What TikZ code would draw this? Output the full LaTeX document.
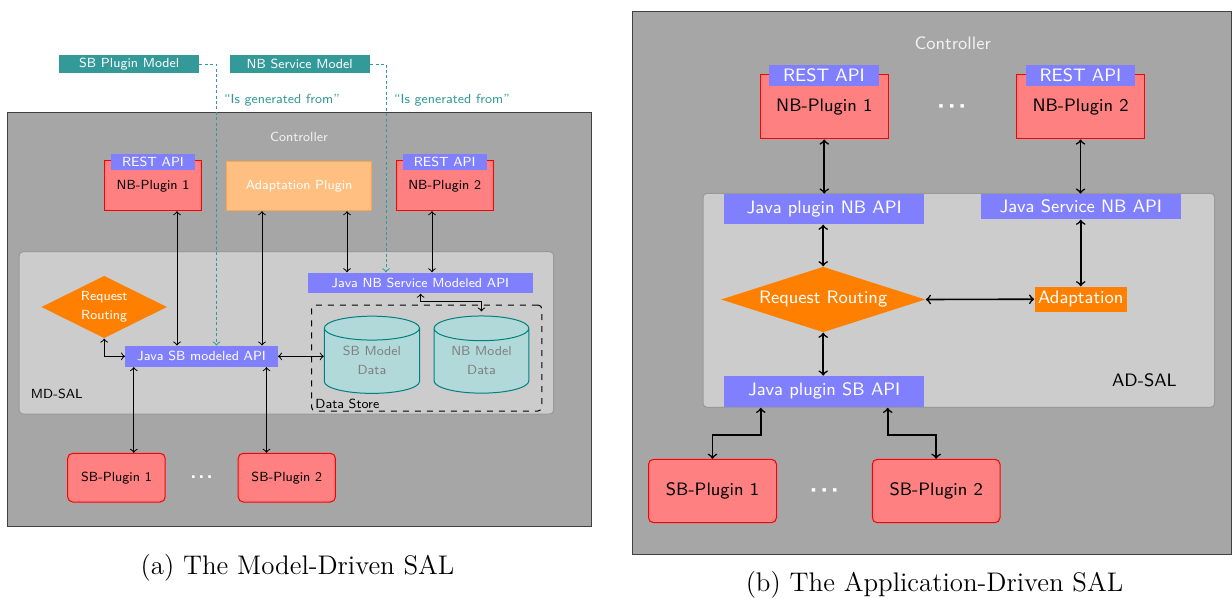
\documentclass[tikz,border=0pt]{standalone}
\usepackage{fontspec}
\usetikzlibrary{shapes.geometric,calc}

\newcommand{\fsa}{\sffamily\fontsize{6.6}{9.7}\selectfont}
\newcommand{\fsb}{\sffamily\fontsize{9}{10.8}\selectfont}
\newcommand{\fcap}{\rmfamily\fontsize{13.45}{16}\selectfont}
% three heavy dots between plugins
\newcommand{\threedots}[2]{{\fontsize{#1}{#1}\selectfont\textbullet\hspace{#2}\textbullet\hspace{#2}\textbullet}}

\begin{document}
\begin{tikzpicture}[x=0.5pt,y=-0.5pt,
  sz/.style 2 args={minimum width=#1pt,minimum height=#2pt},
  ctrl/.style={draw=black!75,fill=black!35,line width=0.5pt,inner sep=0pt},
  sal/.style={draw=black!40,fill=black!20,rounded corners=2pt,line width=0.5pt,inner sep=0pt},
  api/.style={fill=blue!50,text=white,inner sep=0pt},
  plug/.style={draw=red,fill=red!50,text=black,inner sep=0pt,line width=0.5pt},
  rplug/.style={plug,rounded corners=2.5pt},
  mdl/.style={fill=teal!80,text=white,inner sep=0pt},
  adpt/.style={draw=orange!70,fill=orange!50,text=white,inner sep=0pt,line width=0.5pt},
  route/.style={diamond,fill=orange,text=white,inner sep=0pt,align=center},
  store/.style={cylinder,shape border rotate=90,aspect=0.41,draw=teal,fill=teal!30,
    text=black!50,align=center,inner sep=0pt,line width=0.5pt},
  lnk/.style={<->,black,line width=0.5pt},
  lnkb/.style={<->,black,line width=0.8pt},
  gen/.style={->,teal!80,dash pattern=on 1.5pt off 1.2pt,line width=0.5pt},
  lbl/.style={inner sep=0pt},
]
\useasboundingbox (0,0) rectangle (1232,599);

% ---------------- (a) model-driven SAL ----------------
\begin{scope}[font=\fsa]
\node[ctrl,sz={292}{207}] (ctrlA) at (299,319.5) {};
\node[lbl,text=black!5] (ctrlAt) at (299,137) {Controller};

\node[mdl,sz={69.8}{9.15}] (sbm) at (129.2,64.15) {SB Plugin Model};
\node[mdl,sz={70.15}{9.15}] (nbm) at (299.75,64.15) {NB Service Model};
\node[lbl,text=teal!80] (gen1) at (282,100) {``Is generated from''};
\node[lbl,text=teal!80] (gen2) at (452,100) {``Is generated from''};

\node[plug,sz={48.55}{24.85}] (nb1) at (153.05,185.85) {NB-Plugin 1};
\node[api,sz={42}{8}] (tab1) at (153,162) {REST API};
\node[adpt,sz={72.65}{24.5}] (adp) at (299.15,186.2) {Adaptation Plugin};
\node[plug,sz={48.7}{24.85}] (nb2) at (444.7,185.85) {NB-Plugin 2};
\node[api,sz={41.85}{8}] (tab2) at (444.65,162) {REST API};

\node[sal,sz={267.3}{81.15}] (mdsal) at (286.4,332.85) {};
\node[lbl,anchor=west] (mdsalt) at (30.6,394) {MD-SAL};

\node[route,aspect=2.02,sz={62.9}{31.2}] (rr) at (104.2,307) {Request\\Routing};
\node[api,sz={76.1}{10.35}] (jsb) at (201.5,356.35) {Java SB modeled API};
\node[api,sz={112.45}{10.3}] (jnb) at (420.25,283) {Java NB Service Modeled API};

\node[draw,dashed,rounded corners=2pt,line width=0.5pt,inner sep=0pt,sz={115.2}{53}] (dstore) at (426.7,358) {};
\node[lbl,anchor=base west] (dst) at (315,408.5) {Data Store};
\node[store,minimum width=47.6pt,minimum height=38.6pt] (sbd) at (371.9,361)
  {\raisebox{-2.5pt}{\begin{tabular}{@{}c@{}}SB Model\\Data\end{tabular}}};
\node[store,minimum width=47.4pt,minimum height=38.6pt] (nbd) at (481.45,361)
  {\raisebox{-2.5pt}{\begin{tabular}{@{}c@{}}NB Model\\Data\end{tabular}}};

\node[rplug,sz={48.75}{24.35}] (sb1) at (116.45,477.65) {SB-Plugin 1};
\node[rplug,sz={48.6}{24.35}] (sb2) at (286.8,477.65) {SB-Plugin 2};
\node[lbl,text=white] (dotsA) at (201.5,477.5) {\threedots{4.6}{0.3pt}};

% connectors
\draw[lnk] (177,0 |- nb1.south) -- (177,0 |- jsb.north);
\draw[lnk] (262,0 |- adp.south) -- (262,0 |- jsb.north);
\draw[lnk] (347,0 |- adp.south) -- (347,0 |- jnb.north);
\draw[lnk] (432,0 |- nb2.south) -- (432,0 |- jnb.north);
\draw[gen] (sbm.east) -| (216.5,0 |- jsb.north);
\draw[gen] (nbm.east) -| (386,0 |- jnb.north);
\draw[lnk] (rr.south) |- (jsb.west);
\draw[lnk] (jsb.east) -- (jsb.east -| sbd.west);
\draw[lnk] (420.6,0 |- jnb.south) -- (420.6,301.7) -| ($(nbd.north)+(0,-4)$);
\draw[lnk] (133.8,0 |- jsb.south) -- (133.8,0 |- sb1.north);
\draw[lnk] (266.5,0 |- jsb.south) -- (266.5,0 |- sb2.north);
\end{scope}

\node[lbl,font=\fcap] (capA) at (297.5,568) {(a) The Model-Driven SAL};

% ---------------- (b) application-driven SAL ----------------
\begin{scope}[font=\fsb]
\node[ctrl,sz={299.75}{271.3}] (ctrlB) at (931.75,283) {};
\node[lbl,text=black!5] (ctrlBt) at (952.7,43.3) {Controller};

\node[plug,sz={64.25}{32}] (nb1r) at (824.25,107) {NB-Plugin 1};
\node[api,sz={55}{10.5}] (tab1r) at (824,75.5) {REST API};
\node[plug,sz={64.05}{32}] (nb2r) at (1080.55,107) {NB-Plugin 2};
\node[api,sz={54.5}{10.5}] (tab2r) at (1080.5,75.5) {REST API};
\node[lbl,text=white] (dotsB) at (951.7,107) {\threedots{6}{0.3pt}};

\node[sal,sz={255.8}{107}] (adsal) at (958.8,300.3) {};
\node[lbl] (adsalt) at (1144.4,380) {AD-SAL};

\node[api,sz={100}{15.15}] (jpnb) at (824.2,209.15) {Java plugin NB API};
\node[api,sz={100}{12.65}] (jsnb) at (1080.8,206.65) {Java Service NB API};
\node[route,aspect=3.12,sz={102.2}{32.8}] (rr2) at (823.2,299.5) {Request Routing};
\node[fill=orange,text=white,inner sep=0pt,sz={46.15}{12.5}] (adapt) at (1080.75,299.2) {Adaptation};
\node[api,sz={100}{15.35}] (jpsb) at (824.2,391.35) {Java plugin SB API};

\node[rplug,sz={64}{31.7}] (sb1r) at (712.5,491) {SB-Plugin 1};
\node[rplug,sz={63.85}{31.7}] (sb2r) at (936.15,491) {SB-Plugin 2};
\node[lbl,text=white] (dotsC) at (824.2,490.7) {\threedots{6}{0.3pt}};

% connectors
\draw[lnkb] (nb1r.south) -- (nb1r.south |- jpnb.north);
\draw[lnkb] (nb2r.south) -- (nb2r.south |- jsnb.north);
\draw[lnkb] (jpnb.south -| rr2.north) -- (rr2.north);
\draw[lnkb] (rr2.east) -- (adapt.west);
\draw[lnkb] (adapt.north |- jsnb.south) -- (adapt.north);
\draw[lnkb] (rr2.south) -- (rr2.south |- jpsb.north);
\draw[lnkb] (760.8,0 |- adsal.south) -- ++(0,27) -| (sb1r.north);
\draw[lnkb] (887.7,0 |- adsal.south) -- ++(0,27) -| (sb2r.north);
\end{scope}

\node[lbl,font=\fcap] (capB) at (934.5,585) {(b) The Application-Driven SAL};
\end{tikzpicture}
\end{document}
